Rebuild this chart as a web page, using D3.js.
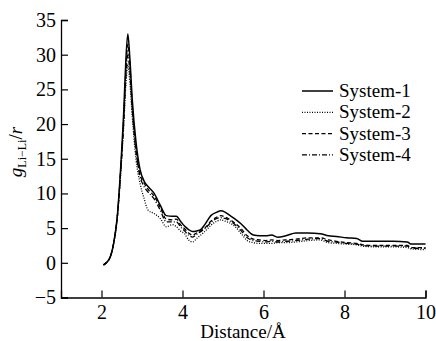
<!DOCTYPE html>
<html><head><meta charset="utf-8">
<script src="https://cdn.jsdelivr.net/npm/d3@7"></script>
<style>
html,body{margin:0;padding:0;background:#fff;}
svg{display:block;}
svg text{font-family:'Liberation Serif','Times New Roman',Times,'DejaVu Serif',serif;fill:#000;}
</style></head>
<body><svg id="c" width="436" height="341"></svg>
<script>
const distance = [2.05,2.15,2.22,2.30,2.39,2.47,2.55,2.60,2.65,2.70,2.76,2.85,2.95,3.05,3.15,3.30,3.45,3.60,3.75,3.85,3.95,4.05,4.15,4.25,4.35,4.45,4.55,4.70,4.85,4.95,5.05,5.15,5.30,5.45,5.60,5.75,5.90,6.05,6.20,6.35,6.55,6.80,7.10,7.40,7.60,7.80,8.05,8.30,8.45,8.80,9.20,9.55,9.65,10.0];
const system1 = [-0.3,0.2,0.9,2.8,6.7,13.4,22,29,33.0,29.5,23.5,17.5,13.5,11.8,11.0,10.0,8.3,6.8,6.7,6.7,6.0,5.3,4.8,4.5,4.6,4.8,5.5,6.8,7.3,7.5,7.3,6.9,6.3,5.6,4.7,4.0,3.9,3.9,4.0,3.7,3.9,4.3,4.3,4.2,3.9,3.8,3.6,3.5,3.1,3.1,3.1,3.0,2.7,2.7];
const system2 = [-0.3,0.2,0.9,2.8,6.5,12.5,20,25.5,28.5,26,21,15,11.5,9.3,7.6,7.1,6.4,5.2,5.5,5.2,4.6,4.2,3.3,3.0,3.5,4.0,4.5,5.4,6.0,6.2,6.0,5.8,5.2,4.2,3.2,2.9,2.8,2.8,2.8,2.9,2.9,3.0,3.2,3.3,2.9,2.8,2.7,2.6,2.4,2.3,2.3,2.2,2.0,1.9];
const system3 = [-0.3,0.2,0.9,2.8,6.6,13.0,21,27.5,31.5,28.5,22.5,16.5,12.8,11.5,10.6,9.6,8.0,6.3,6.2,6.3,5.5,4.9,4.3,4.0,4.3,4.6,5.0,6.0,6.6,6.8,6.6,6.3,5.7,4.9,3.9,3.4,3.3,3.2,3.3,3.2,3.3,3.4,3.6,3.6,3.3,3.1,2.9,2.8,2.6,2.5,2.5,2.5,2.2,2.2];
const system4 = [-0.3,0.2,0.9,2.8,6.6,12.8,20.5,26.5,30.0,27.5,22,16,12.5,11.0,10.2,9.2,7.6,5.9,5.9,5.9,5.2,4.6,4.0,3.7,4.1,4.5,4.9,5.8,6.4,6.5,6.4,6.1,5.5,4.6,3.6,3.2,3.1,3.0,3.1,3.0,3.1,3.2,3.4,3.5,3.1,3.0,2.8,2.7,2.5,2.4,2.4,2.4,2.1,2.1];
const seriesNames = ["System-1","System-2","System-3","System-4"];
const xTicks = [2,4,6,8,10];
const yTicks = [-5,0,5,10,15,20,25,30,35];

const dashes = [null,"1,1.5","4,2.5","5,2,1,2"];
const allSeries = [system1,system2,system3,system4];

const svg = d3.select("#c");
const x = d3.scaleLinear().domain([1,10]).range([61,425.5]);
const y = d3.scaleLinear().domain([-5,35]).range([297.5,20]);

const gx = svg.append("g").attr("transform","translate(0,297.5)")
  .call(d3.axisBottom(x).tickValues(xTicks).tickSize(-7).tickPadding(7).tickFormat(d3.format("d")));
const gy = svg.append("g").attr("transform","translate(61,0)")
  .call(d3.axisLeft(y).tickValues(yTicks).tickSize(-7).tickPadding(5).tickFormat(d=> d<0 ? "\u2212"+Math.abs(d) : d));
[gx,gy].forEach(g=>{
  g.attr("font-family",null).attr("font-size",null);
  g.select(".domain").attr("stroke","#000").attr("stroke-width",1.3);
  g.selectAll(".tick line").attr("stroke","#000").attr("stroke-width",1.2);
  g.selectAll(".tick text").attr("fill","#000").style("font-size","20px");
});

const line = d3.line().x((d,i)=>x(distance[i])).y(d=>y(d)).curve(d3.curveMonotoneX);
allSeries.forEach((s,k)=>{
  svg.append("path").datum(s).attr("d",line).attr("fill","none")
    .attr("stroke","#000").attr("stroke-width",k===0?1.5:1.3)
    .attr("stroke-dasharray",dashes[k]);
});

// legend
const lg = svg.append("g");
seriesNames.forEach((n,k)=>{
  const yy = 91 + k*21.3;
  lg.append("line").attr("x1",302).attr("x2",333).attr("y1",yy).attr("y2",yy)
    .attr("stroke","#000").attr("stroke-width",k===0?1.5:1.2).attr("stroke-dasharray",dashes[k]);
  lg.append("text").attr("x",339).attr("y",yy+6).text(n).style("font-size","19px");
});

// axis titles
svg.append("text").attr("x",243).attr("y",338).attr("text-anchor","middle")
  .style("font-size","19px").text("Distance/\u00C5");
const yt = svg.append("text").attr("transform","translate(22,152) rotate(-90)").attr("text-anchor","middle").style("font-size","19px");
yt.append("tspan").style("font-style","italic").text("g");
yt.append("tspan").attr("dy",4).style("font-size","12px").text("Li\u2212Li");
yt.append("tspan").attr("dy",-4).text("/");
yt.append("tspan").style("font-style","italic").text("r");
</script></body></html>
